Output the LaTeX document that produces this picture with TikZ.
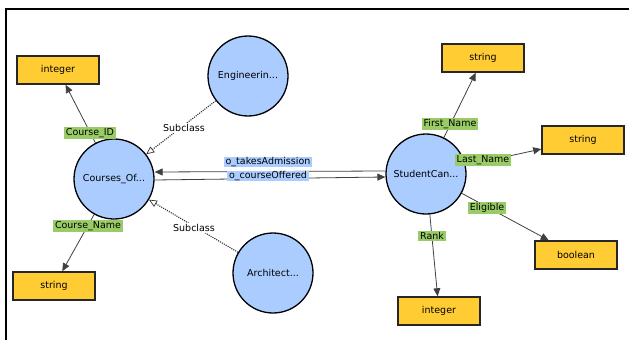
\documentclass[tikz,border=0pt]{standalone}
\usepackage{fontspec}
\setmainfont{DejaVu Sans}
\usetikzlibrary{arrows.meta}
\definecolor{circfill}{RGB}{170,204,255}
\definecolor{boxfill}{RGB}{255,204,51}
\definecolor{lblgreen}{RGB}{153,204,102}
\definecolor{lblblue}{RGB}{170,204,255}
\begin{document}
\begin{tikzpicture}[x=1pt,y=-1pt,
  font=\fontsize{9.5}{10.5}\selectfont,
  cls/.style={circle,draw=black,line width=1.3pt,fill=circfill,minimum size=80pt,inner sep=0pt},
  dtype/.style={rectangle,draw=black!85,line width=1.5pt,fill=boxfill,minimum width=82pt,minimum height=28pt,inner sep=0pt},
  plbl/.style={fill=lblgreen,inner xsep=2pt,inner ysep=1.5pt},
  olbl/.style={fill=lblblue,inner xsep=2pt,inner ysep=0.5pt},
  slbl/.style={fill=white,inner sep=1pt},
  prop/.style={draw=black!75,line width=0.8pt,-{Triangle[length=8pt,width=7pt]}},
  sub/.style={draw=black!80,line width=1.1pt,dash pattern=on 1.1pt off 1.1pt,-{Triangle[open,length=8pt,width=7pt,line width=0.7pt]}}
]
\useasboundingbox (0,0) rectangle (629,340);
% frame
\draw[line width=2pt] (629,9) -- (6,9) -- (6,340);
% nodes
\node[cls] (eng) at (248,76) {Engineerin...};
\node[cls] (cof) at (114,179) {Courses\_Of...};
\node[cls] (arc) at (273,273) {Architect...};
\node[cls] (stu) at (426,174) {StudentCan...};
\node[dtype] (int1) at (58,70) {integer};
\node[dtype] (str1) at (54,286) {string};
\node[dtype] (str2) at (483,58) {string};
\node[dtype] (str3) at (583,140) {string};
\node[dtype] (bool) at (576,255) {boolean};
\node[dtype] (int2) at (439,311) {integer};
% edges
\draw[prop] (cof) -- (int1);
\draw[prop] (cof) -- (str1);
\draw[prop] (stu) -- (str2);
\draw[prop] (stu) -- (str3);
\draw[prop] (stu) -- (bool);
\draw[prop] (stu) -- (int2);
\draw[sub] (eng) -- (cof);
\draw[sub] (arc) -- (cof);
\draw[prop] ([yshift=3pt]stu.west) -- ([yshift=7pt]cof.east);
\draw[prop] ([yshift=-1pt]cof.east) -- ([yshift=-3pt]stu.west);
% labels
\node[plbl] (lcid) at (90,133) {Course\_ID};
\node[plbl] (lcname) at (88,226) {Course\_Name};
\node[slbl] (lsub1) at (184,128) {Subclass};
\node[slbl] (lsub2) at (194,228) {Subclass};
\node[olbl] (ltake) at (268,162) {o\_takesAdmission};
\node[olbl] (loff) at (268,176) {o\_courseOffered};
\node[plbl] (lfn) at (450,124) {First\_Name};
\node[plbl] (lln) at (483,160) {Last\_Name};
\node[plbl] (lel) at (487,208) {Eligible};
\node[plbl] (lrk) at (432,236) {Rank};
\end{tikzpicture}
\end{document}
